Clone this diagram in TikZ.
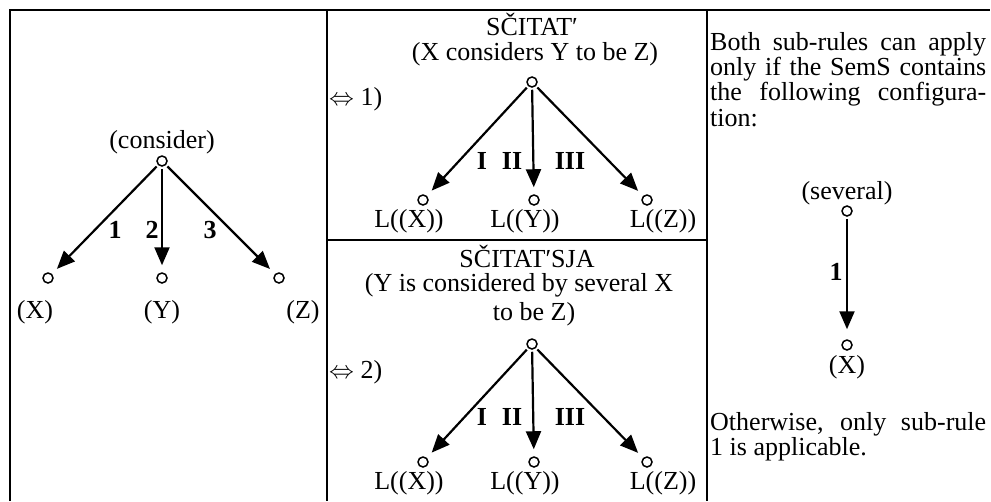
\documentclass[tikz,border=0pt]{standalone}
\usepackage{fontspec}
\setmainfont{Liberation Serif}
\usetikzlibrary{arrows.meta}
\begin{document}
\begin{tikzpicture}[x=1pt,y=-1pt,
  frame/.style={line width=2.2pt},
  vtx/.style={circle,draw,line width=1.5pt,minimum size=10pt,inner sep=0pt},
  lbl/.style={inner sep=0pt,font=\fontsize{26}{25}\selectfont},
  elbl/.style={inner sep=0pt,font=\fontsize{26}{25}\selectfont\bfseries},
  dep/.style={line width=2.2pt,-{Triangle[length=18pt,width=15pt]},shorten >=7pt,shorten <=2pt}]
\useasboundingbox (0,0) rectangle (991,501);
% frame
\coordinate (tl) at (10,10);
\coordinate (tr) at (990,10);
\coordinate (bl) at (10,501);
\coordinate (d1t) at (327,10);
\coordinate (d1b) at (327,501);
\coordinate (d2t) at (707,10);
\coordinate (d2b) at (707,501);
\coordinate (hl) at (327,240);
\coordinate (hr) at (707,240);
\draw[frame] (bl) -- (tl) -- (tr);
\draw[frame] (d1t) -- (d1b);
\draw[frame] (d2t) -- (d2b);
\draw[frame] (hl) -- (hr);
% left panel
\node[lbl] (consider) at (162,142) {(consider)};
\node[vtx] (c0) at (162,161) {};
\node[vtx] (c1) at (48,278) {};
\node[vtx] (c2) at (162,278) {};
\node[vtx] (c3) at (279,278) {};
\node[lbl] (cx) at (35,312) {(X)};
\node[lbl] (cy) at (162,312) {(Y)};
\node[lbl] (cz) at (303,312) {(Z)};
\draw[dep] (c0) -- (c1);
\draw[dep] (c0) -- (c2);
\draw[dep] (c0) -- (c3);
\node[elbl] (e1) at (115,230) {1};
\node[elbl] (e2) at (152,230) {2};
\node[elbl] (e3) at (210,230) {3};
% middle top
\node[lbl] (s1) at (532,24) {SČITAT′};
\node[lbl] (s1g) at (535,54) {(X considers Y to be Z)};
\node[vtx] (r1) at (532,82) {};
\node[lbl,anchor=west] (eq1) at (329,99) {$\Leftrightarrow$ 1)};
\node[vtx] (a1) at (423,200) {};
\node[vtx] (a2) at (534,200) {};
\node[vtx] (a3) at (647,200) {};
\draw[dep] (r1) -- (a1);
\draw[dep] (r1) -- (a2);
\draw[dep] (r1) -- (a3);
\node[lbl] (la1) at (409,221) {L((X))};
\node[lbl] (la2) at (525,221) {L((Y))};
\node[lbl] (la3) at (663,221) {L((Z))};
\node[elbl] (ea1) at (482,161) {I};
\node[elbl] (ea2) at (512,161) {II};
\node[elbl] (ea3) at (570,161) {III};
% middle bottom
\node[lbl] (s2) at (527,256) {SČITAT′SJA};
\node[lbl] (s2g1) at (519,285) {(Y is considered by several X};
\node[lbl] (s2g2) at (534,314) {to be Z)};
\node[vtx] (r2) at (532,344) {};
\node[lbl,anchor=west] (eq2) at (329,372) {$\Leftrightarrow$ 2)};
\node[vtx] (b1) at (423,462) {};
\node[vtx] (b2) at (534,462) {};
\node[vtx] (b3) at (647,462) {};
\draw[dep] (r2) -- (b1);
\draw[dep] (r2) -- (b2);
\draw[dep] (r2) -- (b3);
\node[lbl] (lb1) at (409,483) {L((X))};
\node[lbl] (lb2) at (525,483) {L((Y))};
\node[lbl] (lb3) at (663,483) {L((Z))};
\node[elbl] (eb1) at (482,417) {I};
\node[elbl] (eb2) at (512,417) {II};
\node[elbl] (eb3) at (570,417) {III};
% right panel
\node[lbl,anchor=west] (p1) at (710,44) {\makebox[276pt][s]{Both sub-rules can apply}};
\node[lbl,anchor=west] (p2) at (710,69) {\makebox[276pt][s]{only if the SemS contains}};
\node[lbl,anchor=west] (p3) at (710,94) {\makebox[276pt][s]{the following configura-}};
\node[lbl,anchor=west] (p4) at (710,118) {tion:};
\node[lbl] (sev) at (847,193) {(several)};
\node[vtx] (v0) at (847,211) {};
\node[vtx] (v1) at (847,345) {};
\draw[dep,shorten >=10pt] (v0) -- (v1);
\node[elbl] (ev) at (836,272) {1};
\node[lbl] (vx) at (847,367) {(X)};
\node[lbl,anchor=west] (q1) at (710,424) {\makebox[276pt][s]{Otherwise, only sub-rule}};
\node[lbl,anchor=west] (q2) at (710,449) {1 is applicable.};
\end{tikzpicture}
\end{document}
